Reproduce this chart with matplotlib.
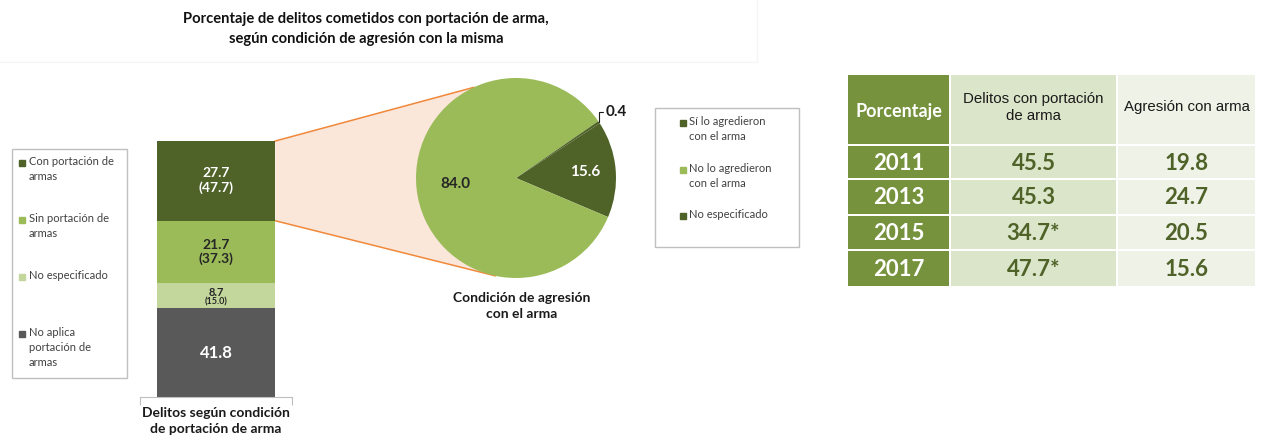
import matplotlib.pyplot as plt
import numpy as np
from matplotlib.patches import Rectangle, Polygon

plt.rcParams['font.family'] = ['Lato', 'DejaVu Sans']

# ---- data ----
bar_labels = ['Con portación de\narmas', 'Sin portación de\narmas', 'No especificado',
              'No aplica\nportación de\narmas']
bar_values = [27.7, 21.7, 8.7, 41.8]
bar_shares = ['(47.7)', '(37.3)', '(15.0)', '']

pie_labels = ['Sí lo agredieron\ncon el arma', 'No lo agredieron\ncon el arma', 'No especificado']
pie_values = [15.6, 84.0, 0.4]

table_header = ['Porcentaje', 'Delitos con portación\nde arma', 'Agresión con arma']
years = ['2011', '2013', '2015', '2017']
portacion = ['45.5', '45.3', '34.7*', '47.7*']
agresion = ['19.8', '24.7', '20.5', '15.6']

title = 'Porcentaje de delitos cometidos con portación de arma,\nsegún condición de agresión con la misma'

# ---- styles ----
bar_colors = ['#4f6228', '#9bbb59', '#c3d69b', '#595959']
bar_text_colors = ['white', '#262626', '#262626', 'white']
pie_colors = ['#4f6228', '#9bbb59', '#4f6228']
pie_text_colors = ['white', '#262626']

W, H = 1264, 442
fig = plt.figure(figsize=(W / 100, H / 100), dpi=100)


def fbox(x0, y0, x1, y1):
    # pixel box (origin top-left) -> figure fraction rect
    return [x0 / W, 1 - y1 / H, (x1 - x0) / W, (y1 - y0) / H]


overlay = fig.add_axes([0, 0, 1, 1], zorder=0)
overlay.set_xlim(0, W)
overlay.set_ylim(H, 0)
overlay.axis('off')

# title
overlay.text(366, 29, title, ha='center', va='center', fontsize=10.6, fontweight='bold',
             linespacing=1.5, color='#111111')
overlay.plot([0, 757, 757], [62, 62, 0], color='#f5f5f5', lw=1)

# ---- stacked bar ----
ax_bar = fig.add_axes(fbox(140, 141, 292, 397), zorder=1)
ax_bar.set_facecolor('none')
bottom = 0
seg = {}
for i in range(len(bar_values) - 1, -1, -1):
    ax_bar.bar(0, bar_values[i], width=0.78, bottom=bottom, color=bar_colors[i])
    seg[i] = (bottom, bottom + bar_values[i])
    bottom += bar_values[i]
ymin = 11
ax_bar.set_xlim(-0.5, 0.5)
ax_bar.set_ylim(ymin, bottom)
for s in ['top', 'left', 'right']:
    ax_bar.spines[s].set_visible(False)
ax_bar.spines['bottom'].set_color('#bfbfbf')
ax_bar.set_xticks([-0.5, 0.5])
ax_bar.set_xticklabels([])
ax_bar.tick_params(axis='x', length=6, color='#bfbfbf', direction='out')
ax_bar.set_yticks([])

for i, v in enumerate(bar_values):
    lo, hi = seg[i]
    yc = (max(lo, ymin) + hi) / 2
    c = bar_text_colors[i]
    if i == 2:
        ax_bar.text(0, yc + 1.2, f'{v:.1f}', ha='center', va='center', fontsize=8,
                    fontweight='bold', color=c)
        ax_bar.text(0, yc - 2.2, bar_shares[i], ha='center', va='center', fontsize=6.5,
                    fontweight='bold', color=c)
    elif bar_shares[i]:
        ax_bar.text(0, yc, f'{v:.1f}\n{bar_shares[i]}', ha='center', va='center', fontsize=10,
                    fontweight='bold', color=c, linespacing=1.2)
    else:
        ax_bar.text(0, yc, f'{v:.1f}', ha='center', va='center', fontsize=12,
                    fontweight='bold', color=c)

overlay.text(216, 421, 'Delitos según condición\nde portación de arma', ha='center', va='center',
             fontsize=10, fontweight='bold', color='#1a1a1a', linespacing=1.35)

# ---- pie ----
ax_pie = fig.add_axes(fbox(416, 78, 616, 278), zorder=1)
wedges, _ = ax_pie.pie(pie_values, colors=pie_colors, startangle=33.16, counterclock=False)
ax_pie.set_xlim(-1, 1)
ax_pie.set_ylim(-1, 1)

label_r = [0.69, 0.61]
for k in range(2):
    w = wedges[k]
    mid = np.radians((w.theta1 + w.theta2) / 2)
    ax_pie.text(label_r[k] * np.cos(mid), label_r[k] * np.sin(mid), f'{pie_values[k]:.1f}',
                ha='center', va='center', fontsize=11, fontweight='bold', color=pie_text_colors[k])
w = wedges[2]
mid = np.radians((w.theta1 + w.theta2) / 2)
ax_pie.annotate(f'{pie_values[2]:.1f}', xy=(np.cos(mid), np.sin(mid)), xytext=(0.9, 0.66),
                ha='left', va='center', fontsize=11, fontweight='bold', color='#1a1a1a',
                arrowprops=dict(arrowstyle='-', color='#1a1a1a', lw=0.8, shrinkA=0, shrinkB=0,
                                connectionstyle='angle,angleA=0,angleB=90,rad=0'))

overlay.text(522, 306, 'Condición de agresión\ncon el arma', ha='center', va='center',
             fontsize=10, fontweight='bold', color='#1a1a1a', linespacing=1.35)


# ---- connector between bar and pie ----
def to_px(ax, x, y):
    return overlay.transData.inverted().transform(ax.transData.transform((x, y)))


lo, hi = seg[0]
p_top = to_px(ax_bar, 0.39, hi)
p_bot = to_px(ax_bar, 0.39, lo)
t_top = to_px(ax_pie, np.cos(np.radians(115)), np.sin(np.radians(115)))
t_bot = to_px(ax_pie, np.cos(np.radians(258)), np.sin(np.radians(258)))
ctr = to_px(ax_pie, 0, 0)
overlay.add_patch(Polygon([p_top, t_top, ctr, t_bot, p_bot], closed=True,
                          facecolor='#fbe6da', edgecolor='none', zorder=1))
overlay.plot([p_top[0], t_top[0]], [p_top[1], t_top[1]], color='#f0883a', lw=1.1, zorder=2)
overlay.plot([p_bot[0], t_bot[0]], [p_bot[1], t_bot[1]], color='#f0883a', lw=1.1, zorder=2)


# ---- legends ----
def legend(x0, y0, x1, y1, labels, colors, first_y, mx, tx):
    overlay.add_patch(Rectangle((x0, y0), x1 - x0, y1 - y0, facecolor='white',
                                edgecolor='#bfbfbf', lw=1, zorder=3))
    for lab, col, yy in zip(labels, colors, first_y):
        overlay.plot(mx, yy, marker='s', markersize=5, color=col, zorder=4)
        overlay.text(tx, yy - 7, lab, ha='left', va='top', fontsize=8, color='#404040',
                     linespacing=1.45, zorder=4)


legend(12, 149, 127, 378, bar_labels, bar_colors, [163, 220, 277, 334], 22, 29)
legend(655, 108, 799, 247, pie_labels, pie_colors, [123, 170, 216], 683, 689)

# ---- table ----
col_x = [(848, 949), (951, 1116), (1118, 1255)]
row_y = [(75, 144), (146, 178), (180, 214), (216, 249), (251, 286)]
cell_colors = ['#76923c', '#dbe5ca', '#eef2e7']
for (x0, x1), cc in zip(col_x, cell_colors):
    for (y0, y1) in row_y:
        overlay.add_patch(Rectangle((x0, y0), x1 - x0, y1 - y0, facecolor=cc,
                                    edgecolor='none', zorder=3))


def cx(j):
    return sum(col_x[j]) / 2


def cy(r):
    return sum(row_y[r]) / 2


overlay.text(cx(0), cy(0) + 2, table_header[0], ha='center', va='center', fontsize=13,
             fontweight='bold', color='white', zorder=4)
for j in (1, 2):
    overlay.text(cx(j), cy(0) - 2, table_header[j], ha='center', va='center', fontsize=10.8,
                 color='#1a1a1a', family='Liberation Sans', linespacing=1.25, zorder=4)
for r, (yr, a, b) in enumerate(zip(years, portacion, agresion), start=1):
    overlay.text(cx(0), cy(r) + 1, yr, ha='center', va='center', fontsize=16,
                 fontweight='bold', color='white', zorder=4)
    overlay.text(cx(1), cy(r) + 1, a, ha='center', va='center', fontsize=16,
                 fontweight='bold', color='#4f6228', zorder=4)
    overlay.text(cx(2), cy(r) + 1, b, ha='center', va='center', fontsize=16,
                 fontweight='bold', color='#4f6228', zorder=4)

fig.savefig('out.png', dpi=100)
